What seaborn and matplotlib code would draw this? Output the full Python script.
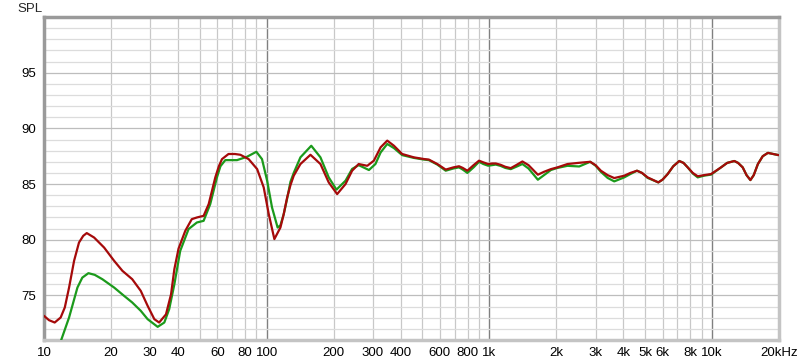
import numpy as np
import pandas as pd
import matplotlib
matplotlib.use("Agg")
import matplotlib.pyplot as plt
import seaborn as sns

# ---- data ----
freq_red = [10, 10.53, 11.17, 11.88, 12.4, 12.96, 13.65, 14.36, 15.0, 15.56, 16.79, 18.62, 20.65,
            22.5, 24.9, 27.2, 29.2, 31.3, 32.9, 35.3, 37.2, 38.5, 40.2, 43.1, 46.1, 48.6, 52.1,
            54.9, 58.8, 61, 63, 67.4, 72, 76.2, 83, 90.6, 97, 102.2, 108.3, 115.3, 119.3, 123.6,
            127.9, 132.3, 141.8, 157.3, 174.4, 190, 207.3, 226, 242, 259, 283, 303, 325, 348,
            373, 406, 458, 508, 535, 584, 637, 690, 731, 760, 797, 850, 899, 940, 987, 1030,
            1069, 1124, 1180, 1248, 1320, 1408, 1500, 1652, 1760, 1890, 2023, 2245, 2533, 2839,
            3000, 3170, 3400, 3640, 4036, 4300, 4605, 4850, 5142, 5743, 6000, 6324, 6700, 7133,
            7450, 7780, 8200, 8630, 9200, 9907, 10984, 11700, 12600, 13100, 13740, 14300, 14880,
            15400, 16080, 16900, 17830, 19900]
spl_red = [73.17, 72.78, 72.57, 73.02, 73.92, 75.71, 78.11, 79.75, 80.35, 80.6, 80.2, 79.3, 78.11,
           77.21, 76.46, 75.41, 74.07, 72.87, 72.57, 73.3, 75.1, 77.36, 79.2, 80.8, 81.85, 82.0, 82.15,
           83.2, 85.6, 86.6, 87.24, 87.7, 87.7, 87.63, 87.24, 86.35, 84.7, 82.3, 80.06, 81.1, 82.3, 83.8,
           84.9, 85.75, 86.8, 87.63, 86.8, 85.15, 84.1, 85.0, 86.2, 86.8, 86.64, 87.1, 88.3, 88.9,
           88.44, 87.7, 87.4, 87.25, 87.2, 86.8, 86.3, 86.5, 86.6, 86.45, 86.2, 86.7, 87.1, 86.95, 86.8, 86.85,
           86.85, 86.73, 86.55, 86.43, 86.7, 87.03, 86.7, 85.84, 86.1, 86.34, 86.5, 86.8, 86.91, 87.0,
           86.7, 86.2, 85.8, 85.54, 85.75, 86.0, 86.2, 86.0, 85.6, 85.15, 85.4, 85.9, 86.6, 87.07,
           86.9, 86.5, 86.0, 85.7, 85.8, 85.9, 86.5, 86.9, 87.07, 86.9, 86.5, 85.8, 85.36,
           85.8, 86.8, 87.5, 87.8, 87.6]

freq_green = [10, 11.0, 11.88, 12.96, 14.13, 14.86, 15.83, 16.9, 18.28, 20.65, 22.9, 24.9, 27.2,
              29.2, 32.4, 34.7, 36.5, 38.5, 40.9, 44.6, 48.6, 52.1, 55.8, 59.8, 62, 65.2, 73.6,
              81.6, 89.9, 95.3, 100.5, 105.7, 112, 115.3, 119.3, 123.6, 127.9, 132.3, 141.8, 158.6,
              174.4, 190, 205.8, 226, 242, 259, 288, 308, 325, 348, 373, 406, 458, 508, 535, 584,
              637, 690, 731, 760, 797, 850, 899, 940, 987, 1030, 1069, 1124, 1180, 1248, 1320, 1408,
              1500, 1652, 1760, 1890, 2023, 2245, 2533, 2839, 3000, 3170, 3400, 3640, 4036, 4300,
              4605, 4850, 5142, 5743, 6000, 6324, 6700, 7133, 7450, 7780, 8200, 8630, 9200, 9907,
              10984, 11700, 12600, 13100, 13740, 14300, 14880, 15400, 16080, 16900, 17830, 19900]
spl_green = [67.5, 69.5, 70.86, 73.02, 75.71, 76.6, 77.0, 76.85, 76.46, 75.71, 74.96, 74.37, 73.62,
             72.87, 72.18, 72.57, 73.77, 76.0, 79.0, 80.96, 81.55, 81.7, 83.2, 85.6, 86.6, 87.15, 87.15,
             87.45, 87.9, 87.24, 85.3, 82.9, 81.1, 81.3, 82.3, 83.7, 85.2, 86.0, 87.4, 88.44,
             87.4, 85.6, 84.5, 85.3, 86.36, 86.7, 86.26, 86.8, 87.84, 88.6, 88.23, 87.6, 87.35, 87.2, 87.15, 86.75,
             86.2, 86.4, 86.5, 86.3, 86.0, 86.5, 87.0, 86.8, 86.65, 86.7, 86.75, 86.63, 86.45, 86.34, 86.55, 86.8,
             86.4, 85.39, 85.8, 86.26, 86.45, 86.64, 86.58, 87.0, 86.65, 86.1, 85.55, 85.24, 85.6, 85.9,
             86.2, 86.0, 85.55, 85.15, 85.4, 85.9, 86.6, 87.07, 86.9, 86.5, 85.95, 85.6, 85.75, 85.85,
             86.5, 86.9, 87.07, 86.9, 86.5, 85.8, 85.36, 85.8, 86.8, 87.5, 87.8, 87.6]

x_tick_vals = [10, 20, 30, 40, 60, 80, 100, 200, 300, 400, 600, 800, 1000, 2000, 3000, 4000,
               5000, 6000, 8000, 10000, 20000]
x_tick_labels = ["10", "20", "30", "40", "60", "80", "100", "200", "300", "400", "600", "800",
                 "1k", "2k", "3k", "4k", "5k", "6k", "8k", "10k", "20kHz"]
y_tick_vals = [75, 80, 85, 90, 95]

df = pd.DataFrame({"freq": freq_green + freq_red,
                   "spl": spl_green + spl_red,
                   "series": ["green"] * len(freq_green) + ["red"] * len(freq_red)})

sns.set_style("white")
plt.rcParams["font.family"] = ["Liberation Sans", "DejaVu Sans"]

fig = plt.figure(figsize=(8.0, 3.64), dpi=100)
ax = fig.add_axes([44 / 800, 24 / 364, 735 / 800, 323 / 364])

# grid lines
minor_x = [m * 10 ** d for d in range(1, 5) for m in range(2, 10) if m * 10 ** d < 20000]
for xv in minor_x:
    ax.axvline(xv, color="#c8c8c8", lw=0.9, zorder=0)
for xv in [100, 1000, 10000]:
    ax.axvline(xv, color="#808080", lw=1.0, zorder=0)
for yv in range(71, 101):
    ax.axhline(yv, color="#bdbdbd" if yv % 5 == 0 else "#dcdcdc", lw=0.9, zorder=0)

sns.lineplot(data=df, x="freq", y="spl", hue="series",
             palette={"green": "#1b9a1b", "red": "#a50a0a"},
             linewidth=1.6, legend=False, ax=ax, sort=False, zorder=3)
for ln in ax.lines[-2:]:
    ln.set_solid_joinstyle("round")
    ln.set_solid_capstyle("round")

ax.set_xscale("log")
ax.set_xlim(10, 20000)
ax.set_ylim(71, 100)
ax.set_xticks(x_tick_vals)
ax.set_xticklabels(x_tick_labels)
ax.minorticks_off()
ax.set_yticks(y_tick_vals)
ax.set_yticklabels([str(v) for v in y_tick_vals])
ax.tick_params(axis="both", length=0, labelsize=9.5, colors="#000000")
ax.tick_params(axis="x", pad=5)
ax.tick_params(axis="y", pad=6)
ax.set_xlabel("")
ax.set_ylabel("")

for side in ["left", "top"]:
    ax.spines[side].set_color("#9a9a9a")
    ax.spines[side].set_linewidth(2.5)
for side in ["right", "bottom"]:
    ax.spines[side].set_color("#c4c4c4")
    ax.spines[side].set_linewidth(2.5)

fig.text(17 / 800, 1 - 9 / 364, "SPL", fontsize=9.5, ha="left", va="center")

fig.savefig("out.png", dpi=100)
